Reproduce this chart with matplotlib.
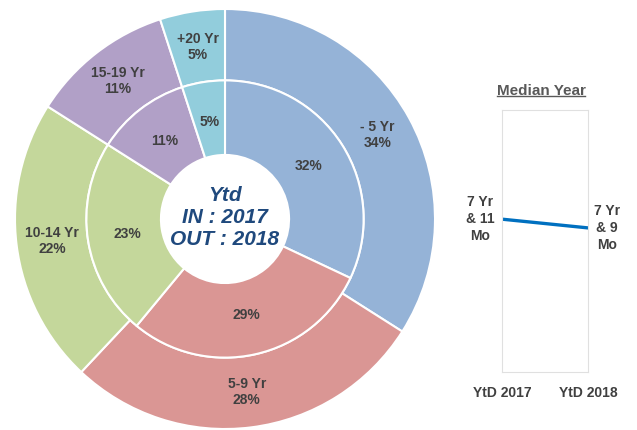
import matplotlib
matplotlib.use("Agg")
import matplotlib.pyplot as plt
from matplotlib.lines import Line2D

plt.rcParams["font.family"] = ["Liberation Sans", "DejaVu Sans"]

# Data
groups = ["- 5 Yr", "5-9 Yr", "10-14 Yr", "15-19 Yr", "+20 Yr"]
share_out_2018 = [34, 28, 22, 11, 5]
share_in_2017 = [32, 29, 23, 11, 5]
colors = ["#95B3D7", "#DA9694", "#C4D79B", "#B1A0C7", "#92CDDC"]

median_labels = ["YtD 2017", "YtD 2018"]
median_months = [7 * 12 + 11, 7 * 12 + 9]
median_text = ["7 Yr\n& 11\nMo", "7 Yr\n& 9\nMo"]

TEXT = "#404040"

fig = plt.figure(figsize=(6.37, 4.30), dpi=100)

# Nested donut: outer ring = OUT 2018, inner ring = IN 2017
ax = fig.add_axes([15 / 637, 1 / 430, 420 / 637, 420 / 430])
wedge_style = dict(edgecolor="white", linewidth=1.5)
ax.pie(share_out_2018, radius=1.0, colors=colors, startangle=90,
       counterclock=False, wedgeprops=dict(width=0.34, **wedge_style),
       labels=[f"{g}\n{v}%" for g, v in zip(groups, share_out_2018)],
       labeldistance=0.83,
       textprops=dict(color=TEXT, fontsize=10, fontweight="bold",
                      ha="center", va="center", linespacing=1.2))
ax.pie(share_in_2017, radius=0.66, colors=colors, startangle=90,
       counterclock=False, wedgeprops=dict(width=0.355, **wedge_style),
       labels=[f"{v}%" for v in share_in_2017],
       labeldistance=0.71,
       textprops=dict(color=TEXT, fontsize=10, fontweight="bold",
                      ha="center", va="center"))
for t in ax.texts:
    t.set_horizontalalignment("center")
ax.text(0, 0.005, "Ytd\nIN : 2017\nOUT : 2018", ha="center", va="center",
        fontsize=15, fontweight="bold", fontstyle="italic",
        color="#1F497D", linespacing=1.2)
ax.set_xlim(-1, 1)
ax.set_ylim(-1, 1)
ax.set_aspect("equal")
ax.axis("off")

# Median year line chart
ax2 = fig.add_axes([502 / 637, 58 / 430, 86 / 637, 262 / 430])
x = list(range(len(median_months)))
ax2.plot(x, median_months, color="#0070C0", linewidth=2.4)
ax2.set_xlim(0, 1)
ax2.set_ylim(60, 120)
ax2.set_yticks([])
ax2.set_xticks(x)
ax2.set_xticklabels(median_labels, fontsize=10, fontweight="bold", color=TEXT)
ax2.tick_params(axis="x", length=0, pad=10)
for s in ax2.spines.values():
    s.set_color("#E0E0E0")
    s.set_linewidth(0.8)
ax2.text(-0.25, median_months[0], median_text[0], ha="center", va="center",
         fontsize=10, fontweight="bold", color=TEXT, clip_on=False,
         linespacing=1.25)
ax2.text(1.22, median_months[1], median_text[1], ha="center", va="center",
         fontsize=10, fontweight="bold", color=TEXT, clip_on=False,
         linespacing=1.25)

title = fig.text(541 / 637, 1 - 91 / 430, "Median Year", ha="center",
                 va="center", fontsize=11, fontweight="bold", color="#595959")
fig.canvas.draw()
bb = title.get_window_extent().transformed(fig.transFigure.inverted())
fig.add_artist(Line2D([bb.x0, bb.x1], [bb.y0 + 0.004, bb.y0 + 0.004],
                      transform=fig.transFigure, color="#595959", linewidth=1))

fig.savefig("out.png", dpi=100)
